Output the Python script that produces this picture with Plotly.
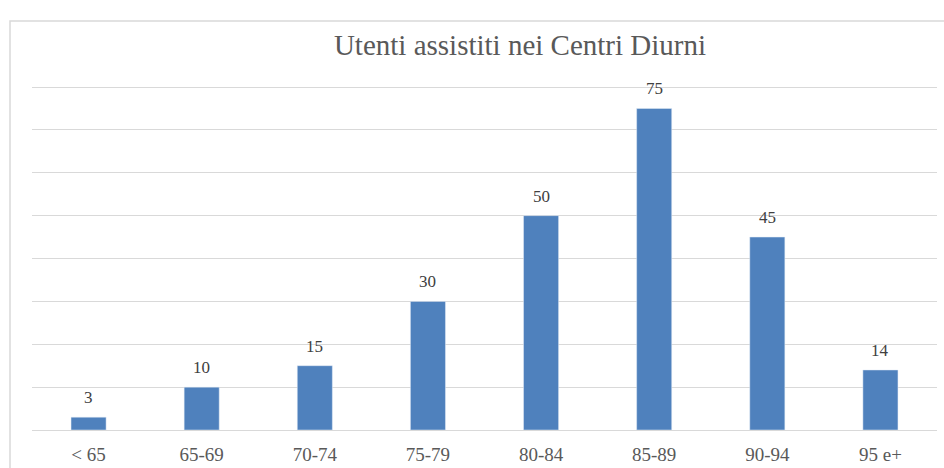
import plotly.graph_objects as go

categories = ["< 65", "65-69", "70-74", "75-79", "80-84", "85-89", "90-94", "95 e+"]
values = [3, 10, 15, 30, 50, 75, 45, 14]
title_text = "Utenti assistiti nei Centri Diurni"

BAR = "#4F81BD"
W, H = 944, 468
L, R, T, B = 32, 7, 84, 38

fig = go.Figure(go.Bar(x=categories, y=values, marker_color=BAR, width=0.31))

for c, v in zip(categories, values):
    fig.add_annotation(x=c, y=v, text=str(v), showarrow=False, yanchor="bottom",
                       yshift=8, font=dict(family="Liberation Serif", size=17, color="#404040"))

pw = W - L - R
ph = H - T - B
fig.add_shape(type="rect", xref="paper", yref="paper",
              x0=(10 - L) / pw, x1=(W + 5 - L) / pw,
              y0=-(H + 5 - T - ph) / ph, y1=(H - 21 - B) / ph,
              line=dict(color="#D9D9D9", width=1.5), layer="below")

fig.update_layout(
    width=W, height=H,
    margin=dict(l=L, r=R, t=T, b=B),
    paper_bgcolor="white", plot_bgcolor="white",
    showlegend=False,
    title=dict(text=title_text, x=(520) / W, xanchor="center", y=1 - 45 / H, yanchor="middle",
               font=dict(family="Liberation Serif", size=29, color="#595959")),
    xaxis=dict(showgrid=False, showline=True, linecolor="#D9D9D9", linewidth=1,
               automargin=False,
               ticks="outside", ticklen=7, tickcolor="rgba(0,0,0,0)",
               tickfont=dict(family="Liberation Serif", size=19, color="#595959")),
    yaxis=dict(range=[0, 80.7], tick0=0, dtick=10, showgrid=True, gridcolor="#D9D9D9", gridwidth=1,
               automargin=False,
               showticklabels=False, zeroline=False, showline=False),
)

fig.write_html("out.html", config={"displayModeBar": False},
               post_script="document.body.style.margin='0';")
